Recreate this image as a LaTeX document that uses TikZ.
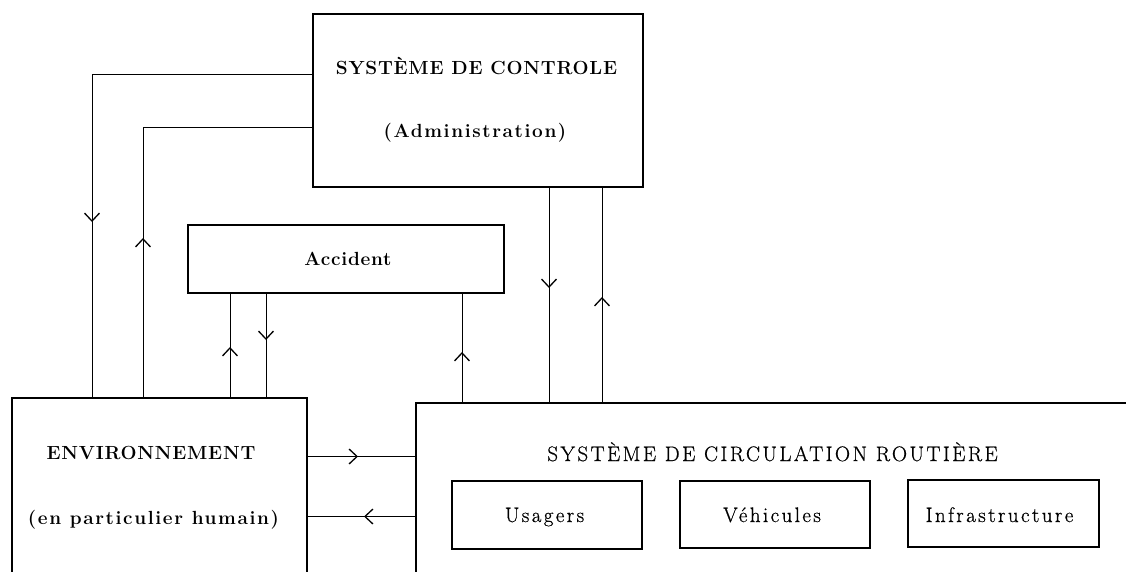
\documentclass[tikz,border=0pt]{standalone}
\usepackage{fontspec}
\setmainfont{Latin Modern Roman}
\usetikzlibrary{arrows.meta,decorations.markings}
\newfontfamily\leftfont{Latin Modern Roman}[LetterSpace=4]
\newfontfamily\leftwidefont{Latin Modern Roman}[LetterSpace=8.5]
\newfontfamily\rightfont{Latin Modern Roman}[LetterSpace=11.5,FakeBold=0.6]
\newcommand\bigbold{\leftfont\fontsize{19}{22}\selectfont\bfseries}
\newcommand\bigboldwide{\leftwidefont\fontsize{19}{22}\selectfont\bfseries}
\newcommand\roadfont{\rightfont\fontsize{21}{24}\selectfont}
\tikzset{
  box/.style={draw, line width=1.7pt, inner sep=0pt, outer sep=0pt},
  conn/.style={line width=0.9pt},
  mybarb/.tip={Straight Barb[length=8pt,width=15pt,line width=1.3pt]},
  arr/.style={postaction={decorate}, decoration={markings, mark=at position #1 with {\arrow{mybarb}}}},
  lbl/.style={anchor=base, inner sep=0pt},
}
\begin{document}
\begin{tikzpicture}[x=1pt,y=-1pt]
\clip (0,0) rectangle (1126,571);
\fill[white] (0,0) rectangle (1126,571);
% boxes
\node[box, minimum width=330pt, minimum height=173pt] (ctrl) at (478,100.5) {};
\node[box, minimum width=316pt, minimum height=68pt] (acc) at (346,259) {};
\node[box, minimum width=295pt, minimum height=302pt] (env) at (159.5,549) {};
\node[box, minimum width=725pt, minimum height=297pt] (road) at (778.5,551.5) {};
\node[box, line width=1.3pt, minimum width=190pt, minimum height=68pt] (usa) at (547,515) {};
\node[box, line width=1.3pt, minimum width=190pt, minimum height=67pt] (veh) at (775,514.5) {};
\node[box, line width=1.3pt, minimum width=191pt, minimum height=67pt] (inf) at (1003.5,513.5) {};
% labels
\node[lbl] (tctrl) at (476.5,74.5) {\bigbold SYSTÈME DE CONTROLE};
\node[lbl] (tadm) at (475,137) {\bigboldwide (Administration)};
\node[lbl] (tacc) at (348,265) {\bigbold Accident};
\node[lbl] (tenv) at (151,459) {\bigbold ENVIRONNEMENT};
\node[lbl] (thum) at (153.5,524) {\bigboldwide (en particulier humain)};
\node[lbl] (troad) at (772.5,461) {\roadfont SYSTÈME DE CIRCULATION ROUTIÈRE};
\node[lbl] (tusa) at (544.5,522) {\roadfont Usagers};
\node[lbl] (tveh) at (772,522) {\roadfont Véhicules};
\node[lbl] (tinf) at (999.5,522) {\roadfont Infrastructure};
% connectors
\draw[conn, arr=369pt] (ctrl.west |- 0,74) -| (env.north -| 92,0);
\draw[conn, arr=160pt] (env.north -| 143,0) |- (ctrl.west |- 0,127);
\draw[conn, arr=51pt] (env.north -| 230,0) -- (acc.south -| 230,0);
\draw[conn, arr=47pt] (acc.south -| 266,0) -- (env.north -| 266,0);
\draw[conn, arr=51pt] (road.north -| 462,0) -- (acc.south -| 462,0);
\draw[conn, arr=101pt] (ctrl.south -| 549,0) -- (road.north -| 549,0);
\draw[conn, arr=106pt] (road.north -| 602,0) -- (ctrl.south -| 602,0);
\draw[conn, arr=51pt] (env.east |- 0,456.5) -- (road.west |- 0,456.5);
\draw[conn, arr=52pt] (road.west |- 0,516.5) -- (env.east |- 0,516.5);
\end{tikzpicture}
\end{document}
